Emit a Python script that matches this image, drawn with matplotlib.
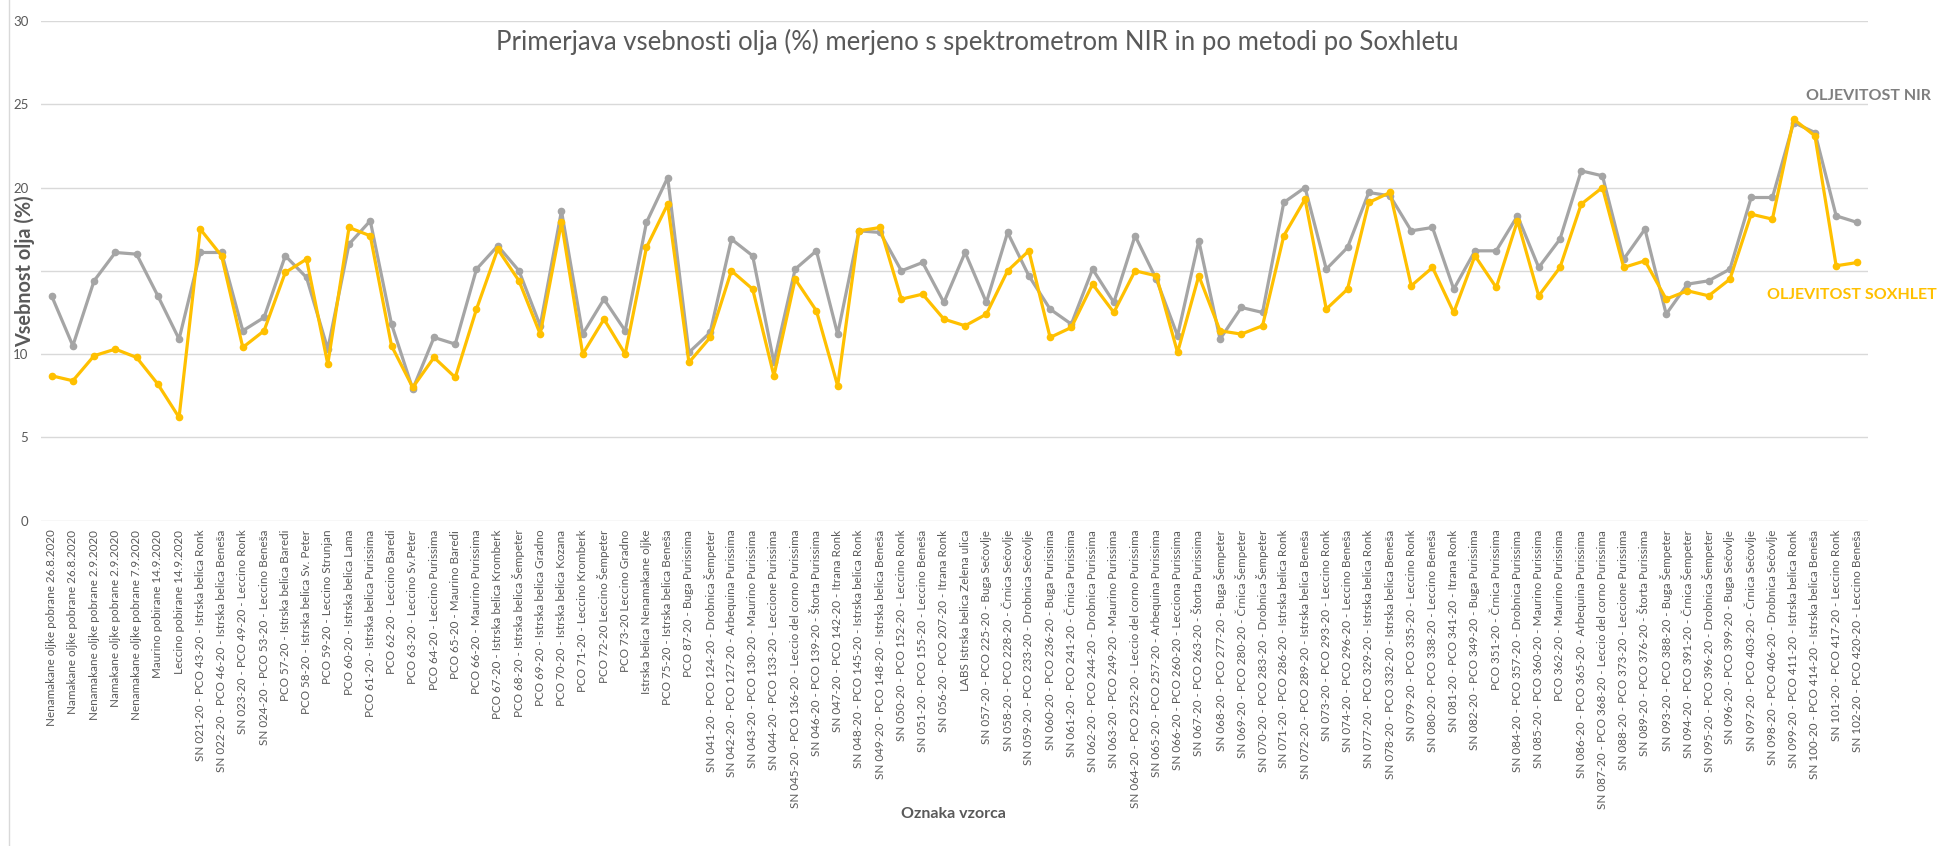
import numpy as np
import matplotlib
matplotlib.use("Agg")
import matplotlib.pyplot as plt

plt.rcParams['font.family'] = ['Lato', 'DejaVu Sans']

# oznake vzorcev
vzorci = [
    'Nenamakane oljke pobrane 26.8.2020',
    'Namakane oljke pobrane 26.8.2020',
    'Nenamakane oljke pobrane 2.9.2020',
    'Namakane oljke pobrane 2.9.2020',
    'Nenamakane oljke pobrane 7.9.2020',
    'Maurino pobirane 14.9.2020',
    'Leccino pobirane 14.9.2020',
    'SN 021-20 - PCO 43-20 - Istrska belica Ronk',
    'SN 022-20 - PCO 46-20 - Istrska belica Beneša',
    'SN 023-20 - PCO 49-20 - Leccino Ronk',
    'SN 024-20 - PCO 53-20 - Leccino Beneša',
    'PCO 57-20 - Istrska belica Baredi',
    'PCO 58-20 - Istrska belica Sv. Peter',
    'PCO 59-20 - Leccino Strunjan',
    'PCO 60-20 - Istrska belica Lama',
    'PCO 61-20 - Istrska belica Purissima',
    'PCO 62-20 - Leccino Baredi',
    'PCO 63-20 - Leccino Sv.Peter',
    'PCO 64-20 - Leccino Purissima',
    'PCO 65-20 - Maurino Baredi',
    'PCO 66-20 - Maurino Purissima',
    'PCO 67-20 - Istrska belica Kromberk',
    'PCO 68-20 - Istrska belica Šempeter',
    'PCO 69-20 - Istrska belica Gradno',
    'PCO 70-20 - Istrska belica Kozana',
    'PCO 71-20 - Leccino Kromberk',
    'PCO 72-20 Leccino Šempeter',
    'PCO 73-20 Leccino Gradno',
    'Istrska belica Nenamakane oljke',
    'PCO 75-20 - Istrska belica Beneša',
    'PCO 87-20 - Buga Purissima',
    'SN 041-20 - PCO 124-20 - Drobnica Šempeter',
    'SN 042-20 - PCO 127-20 - Arbequina Purissima',
    'SN 043-20 - PCO 130-20 - Maurino Purissima',
    'SN 044-20 - PCO 133-20 - Leccione Purissima',
    'SN 045-20 - PCO 136-20 - Leccio del corno Purissima',
    'SN 046-20 - PCO 139-20 - Štorta Purissima',
    'SN 047-20 - PCO 142-20 - Itrana Ronk',
    'SN 048-20 - PCO 145-20 - Istrska belica Ronk',
    'SN 049-20 - PCO 148-20 - Istrska belica Beneša',
    'SN 050-20 - PCO 152-20 - Leccino Ronk',
    'SN 051-20 - PCO 155-20 - Leccino Beneša',
    'SN 056-20 - PCO 207-20 - Itrana Ronk',
    'LABS Istrska belica Zelena ulica',
    'SN 057-20 - PCO 225-20 - Buga Sečovlje',
    'SN 058-20 - PCO 228-20 - Črnica Sečovlje',
    'SN 059-20 - PCO 233-20 - Drobnica Sečovlje',
    'SN 060-20 - PCO 236-20 - Buga Purissima',
    'SN 061-20 - PCO 241-20 - Črnica Purissima',
    'SN 062-20 - PCO 244-20 - Drobnica Purissima',
    'SN 063-20 - PCO 249-20 - Maurino Purissima',
    'SN 064-20 - PCO 252-20 - Leccio del corno Purissima',
    'SN 065-20 - PCO 257-20 - Arbequina Purissima',
    'SN 066-20 - PCO 260-20 - Lecciona Purissima',
    'SN 067-20 - PCO 263-20 - Štorta Purissima',
    'SN 068-20 - PCO 277-20 - Buga Šempeter',
    'SN 069-20 - PCO 280-20 - Črnica Šempeter',
    'SN 070-20 - PCO 283-20 - Drobnica Šempeter',
    'SN 071-20 - PCO 286-20 - Istrska belica Ronk',
    'SN 072-20 - PCO 289-20 - Istrska belica Beneša',
    'SN 073-20 - PCO 293-20 - Leccino Ronk',
    'SN 074-20 - PCO 296-20 - Leccino Beneša',
    'SN 077-20 - PCO 329-20 - Istrska belica Ronk',
    'SN 078-20 - PCO 332-20 - Istrska belica Beneša',
    'SN 079-20 - PCO 335-20 - Leccino Ronk',
    'SN 080-20 - PCO 338-20 - Leccino Beneša',
    'SN 081-20 - PCO 341-20 - Itrana Ronk',
    'SN 082-20 - PCO 349-20 - Buga Purissima',
    'PCO 351-20 - Črnica Purissima',
    'SN 084-20 - PCO 357-20 - Drobnica Purissima',
    'SN 085-20 - PCO 360-20 - Maurino Purissima',
    'PCO 362-20 - Maurino Purissima',
    'SN 086-20 - PCO 365-20 - Arbequina Purissima',
    'SN 087-20 - PCO 368-20 - Leccio del corno Purissima',
    'SN 088-20 - PCO 373-20 - Leccione Purissima',
    'SN 089-20 - PCO 376-20 - Štorta Purissima',
    'SN 093-20 - PCO 388-20 - Buga Šempeter',
    'SN 094-20 - PCO 391-20 - Črnica Šempeter',
    'SN 095-20 - PCO 396-20 - Drobnica Šempeter',
    'SN 096-20 - PCO 399-20 - Buga Sečovlje',
    'SN 097-20 - PCO 403-20 - Črnica Sečovlje',
    'SN 098-20 - PCO 406-20 - Drobnica Sečovlje',
    'SN 099-20 - PCO 411-20 - Istrska belica Ronk',
    'SN 100-20 - PCO 414-20 - Istrska belica Beneša',
    'SN 101-20 - PCO 417-20 - Leccino Ronk',
    'SN 102-20 - PCO 420-20 - Leccino Beneša',
]

# oljevitost, izmerjena z NIR (%)
nir = [
    13.5, 10.5, 14.4, 16.1, 16.0, 13.5, 10.9, 16.1, 16.1, 11.4,
    12.2, 15.9, 14.6, 10.3, 16.6, 18.0, 11.8, 7.9, 11.0, 10.6,
    15.1, 16.5, 15.0, 11.7, 18.6, 11.2, 13.3, 11.4, 17.9, 20.6,
    10.1, 11.3, 16.9, 15.9, 9.5, 15.1, 16.2, 11.2, 17.4, 17.3,
    15.0, 15.5, 13.1, 16.1, 13.1, 17.3, 14.7, 12.7, 11.8, 15.1,
    13.1, 17.1, 14.5, 11.1, 16.8, 10.9, 12.8, 12.5, 19.1, 20.0,
    15.1, 16.4, 19.7, 19.5, 17.4, 17.6, 13.9, 16.2, 16.2, 18.3,
    15.2, 16.9, 21.0, 20.7, 15.7, 17.5, 12.4, 14.2, 14.4, 15.1,
    19.4, 19.4, 23.9, 23.3, 18.3, 17.9,
]

# oljevitost po metodi po Soxhletu (%)
soxhlet = [
    8.7, 8.4, 9.9, 10.3, 9.8, 8.2, 6.2, 17.5, 15.9, 10.4,
    11.4, 14.9, 15.7, 9.4, 17.6, 17.1, 10.5, 8.0, 9.8, 8.6,
    12.7, 16.3, 14.4, 11.2, 17.9, 10.0, 12.1, 10.0, 16.4, 19.0,
    9.5, 11.0, 15.0, 13.9, 8.7, 14.5, 12.6, 8.1, 17.4, 17.6,
    13.3, 13.6, 12.1, 11.7, 12.4, 15.0, 16.2, 11.0, 11.6, 14.2,
    12.5, 15.0, 14.7, 10.1, 14.7, 11.4, 11.2, 11.7, 17.1, 19.3,
    12.7, 13.9, 19.1, 19.7, 14.1, 15.2, 12.5, 15.9, 14.0, 18.0,
    13.5, 15.2, 19.0, 20.0, 15.2, 15.6, 13.3, 13.8, 13.5, 14.5,
    18.4, 18.1, 24.1, 23.1, 15.3, 15.5,
]

y_ticks = [0, 5, 10, 15, 20, 25, 30]
# oznaka 15 je pod naslovom osi
y_tick_labels = ['0', '5', '10', '', '20', '25', '30']

GRAY = '#A5A5A5'
YELLOW = '#FFC000'
TEXT = '#595959'

fig = plt.figure(figsize=(19.42, 8.46), dpi=100)
ax = fig.add_axes([0.0211, 0.3845, 0.9408, 0.5908])

x = np.arange(len(vzorci))
ax.plot(x, nir, color=GRAY, lw=2.3, marker='o', ms=4.5, solid_joinstyle='round', zorder=3)
ax.plot(x, soxhlet, color=YELLOW, lw=2.3, marker='o', ms=4.5, solid_joinstyle='round', zorder=4)

ax.set_xlim(-0.5, len(vzorci) - 0.5)
ax.set_ylim(0, 30)
ax.set_yticks(y_ticks)
ax.set_yticklabels(y_tick_labels)
ax.grid(axis='y', color='#D9D9D9', lw=1.0)
ax.set_axisbelow(True)
for s in ax.spines.values():
    s.set_visible(False)

ax.set_xticks(x)
ax.set_xticklabels(vzorci, rotation=90, fontsize=8.4, color=TEXT)
ax.tick_params(axis='x', length=0, pad=6.5)
ax.tick_params(axis='y', length=0, pad=9, labelsize=9.5, labelcolor=TEXT)

fig.text(0.5035, 0.951, 'Primerjava vsebnosti olja (%) merjeno s spektrometrom NIR in po metodi po Soxhletu',
         ha='center', va='center', fontsize=18.5, color=TEXT)
fig.text(0.0129, 0.68, 'Vsebnost olja (%)', rotation=90, ha='center', va='center',
         fontsize=14.3, fontweight='bold', color=TEXT)
fig.text(0.491, 0.038, 'Oznaka vzorca', ha='center', va='center',
         fontsize=11.5, fontweight='bold', color=TEXT)

# oznake serij ob desnem robu
fig.text(0.930, 0.886, 'OLJEVITOST NIR', ha='left', va='center',
         fontsize=11.5, fontweight='bold', color='#7F7F7F')
fig.text(0.910, 0.651, 'OLJEVITOST SOXHLET', ha='left', va='center',
         fontsize=11.5, fontweight='bold', color=YELLOW)

# rob območja grafikona
fig.add_artist(plt.Line2D([0.0046, 0.0046], [0.0, 1.0], color='#D9D9D9', lw=1.0))

fig.savefig('out.png', dpi=100)
